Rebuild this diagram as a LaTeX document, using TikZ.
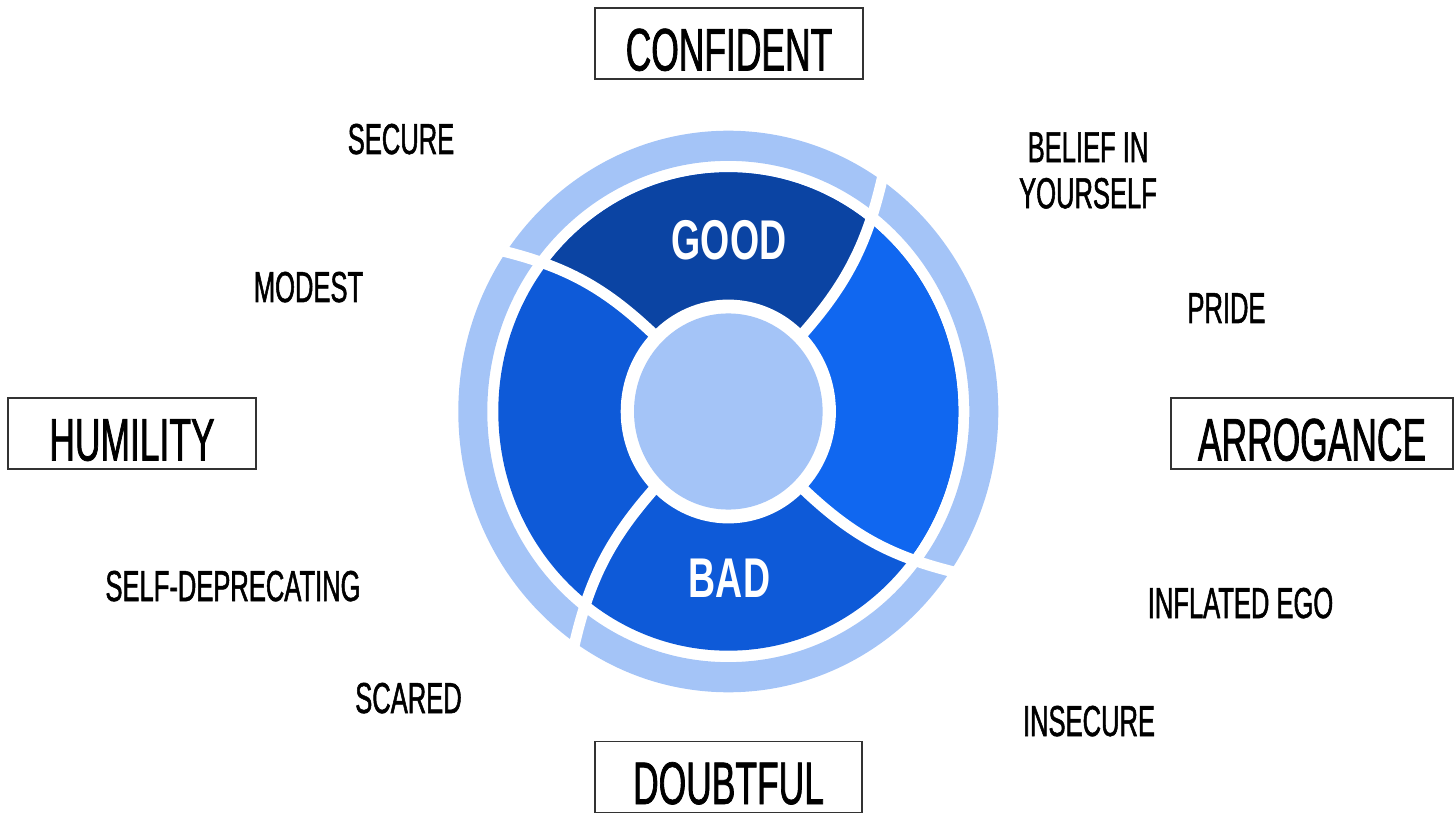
\documentclass[tikz,border=0pt]{standalone}
\usepackage{fontspec}
\usepackage{tikz}
\usepackage{xcolor}
\setmainfont{Liberation Sans}[FakeStretch=0.59, FakeBold=1.2]
\newfontfamily\segfont{Liberation Sans}[FakeStretch=0.67]
\definecolor{ringlight}{HTML}{A4C4F7}
\definecolor{gooddark}{HTML}{0B44A3}
\definecolor{segmid}{HTML}{0E5AD8}
\definecolor{segbright}{HTML}{1067F0}
\tikzset{
    pole/.style={draw=black!80, line width=1.5pt, inner sep=0pt, minimum height=71pt,
        text height=54pt, text depth=0pt, font=\fontsize{60}{66}\selectfont},
    trait/.style={anchor=base, inner sep=0pt, font=\fontsize{43.3}{46}\selectfont},
    seglabel/.style={anchor=base, inner sep=0pt, text=white,
        font=\segfont\bfseries\fontsize{56}{60}\selectfont},
    divider/.style={white, line width=11pt}
}

\begin{document}
\begin{tikzpicture}[x=1pt, y=1pt]
            \useasboundingbox (0,0) rectangle (1456,815);

            % ring
            \begin{scope}[shift={(728.3,403.5)}, yscale=1.04]
            \fill[ringlight, even odd rule] (0,0) circle (270) (0,0) circle (241);
            \fill[segmid] (0,0) circle (230);
            \begin{scope}
            \clip (0,0) circle (230);
            \fill[gooddark] (45:100) to[bend right=15] (56:278) arc[start angle=56, end angle=146, radius=278]
                to[bend left=15] (135:100) -- cycle;
            \fill[segbright] (-45:100) to[bend right=15] (-34:278) arc[start angle=-34, end angle=56, radius=278]
                to[bend left=15] (45:100) -- cycle;
            \end{scope}
            \draw[divider] (45:100) to[bend right=15] (56:278);
            \draw[divider] (135:100) to[bend right=15] (146:278);
            \draw[divider] (-135:100) to[bend right=15] (-124:278);
            \draw[divider] (-45:100) to[bend right=15] (-34:278);
            \fill[white] (0,0) circle (107.6);
            \fill[ringlight] (0,0) circle (94.3);
            \end{scope}

            \node[seglabel] (good) at (729, 555) {GOOD};
            \node[seglabel] (bad) at (729.5, 218) {BAD};

            % poles
            \node[pole, minimum width=268pt] (confident) at (729, 771.5) {CONFIDENT};
            \node[pole, minimum width=248pt] (humility) at (132, 381.5) {HUMILITY};
            \node[pole, minimum width=282pt] (arrogance) at (1312, 381.5) {ARROGANCE};
            \node[pole, minimum width=267pt] (doubtful) at (728.5, 38) {DOUBTFUL};

            % traits
            \node[trait] (secure) at (401, 661) {SECURE};
            \node[trait] (modest) at (308.5, 513) {MODEST};
            \node[trait] (selfdep) at (233, 214) {SELF-DEPRECATING};
            \node[trait] (scared) at (408.5, 102) {SCARED};
            \node[trait, anchor=center, align=center] (belief) at (1088, 644.5) {BELIEF IN\\YOURSELF};
            \node[trait] (pride) at (1226.5, 492) {PRIDE};
            \node[trait] (inflated) at (1240.5, 197) {INFLATED EGO};
            \node[trait] (insecure) at (1089, 79) {INSECURE};
\end{tikzpicture}
\end{document}
